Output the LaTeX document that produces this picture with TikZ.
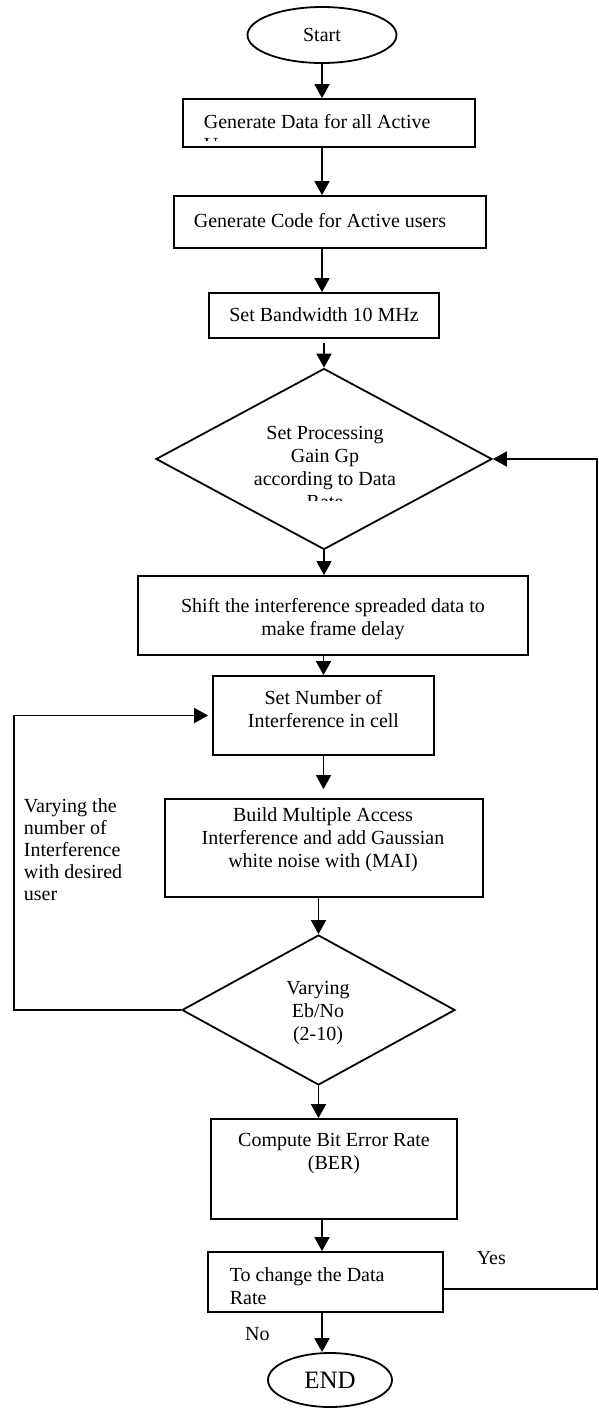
\documentclass[tikz,border=0pt]{standalone}
\usepackage{fontspec}
\setmainfont{Liberation Serif}
\usetikzlibrary{positioning}
\usetikzlibrary{shapes.geometric}
\usetikzlibrary{arrows.meta}

\begin{document}
\begin{tikzpicture}[x=0.5pt, y=-0.5pt, ->, >={Triangle[length=7pt,width=7.5pt]}, line width=0.9pt, font=\fontsize{10}{11.5}\selectfont]
    \tikzstyle{block}=[draw=black,rectangle,fill=none,inner sep=0pt]
    \tikzstyle{term}=[draw=black,ellipse,fill=none,inner sep=0pt]
    \tikzstyle{decision}=[draw=black,diamond,fill=none,inner sep=0pt]
    \tikzstyle{txt}=[inner sep=0pt,align=center]

    \useasboundingbox (0,0) rectangle (599,1409);

    % shapes
    \node[term, minimum width=74.5pt, minimum height=28pt] (start) at (322,35) {Start};
    \node[block, minimum width=146pt, minimum height=24pt] (gdata) at (329,123) {};
    \node[block, minimum width=156pt, minimum height=26pt] (gcode) at (330,222) {};
    \node[block, minimum width=115pt, minimum height=22.5pt] (bw) at (324,315.5) {};
    \node[decision, minimum width=168pt, minimum height=90.5pt] (gain) at (324,459) {};
    \node[block, minimum width=195pt, minimum height=39.5pt] (shift) at (333,615.5) {};
    \node[block, minimum width=110.5pt, minimum height=39.5pt] (nint) at (323.5,715.5) {};
    \node[block, minimum width=159pt, minimum height=49pt] (mai) at (324,848) {};
    \node[decision, minimum width=136.5pt, minimum height=75pt] (ebno) at (318.5,1010) {};
    \node[block, minimum width=123pt, minimum height=50pt] (ber) at (334,1169) {};
    \node[block, minimum width=117.5pt, minimum height=30pt] (rate) at (325.5,1282) {};
    \node[term, minimum width=62pt, minimum height=27pt, font=\fontsize{12.5}{14}\selectfont] (stop) at (330,1380) {END};
    \coordinate (lft) at (14,0);
    \coordinate (rgt) at (597,0);

    % texts
    \begin{scope}
        \clip (gdata.north west) rectangle ([yshift=3.5pt]gdata.south east);
        \node[txt, anchor=west, align=left] (gdatatxt) at (203,133.5) {Generate Data for all Active\\Users};
    \end{scope}
    \node[txt, anchor=west] (gcodetxt) at (193,221) {Generate Code for Active users};
    \node[txt] (bwtxt) at (324,315) {Set Bandwidth 10 MHz};
    \begin{scope}
        \clip (150,360) rectangle (500,500);
        \node[txt] (gaintxt) at (325,467) {Set Processing\\Gain Gp\\according to Data\\Rate};
    \end{scope}
    \node[txt] (shifttxt) at (333,619) {Shift the interference spreaded data to\\make frame delay};
    \node[txt] (ninttxt) at (323.5,709) {Set Number of\\Interference in cell};
    \node[txt] (maitxt) at (323,840) {Build Multiple Access\\Interference and add Gaussian\\white noise with (MAI)};
    \node[txt] (ebnotxt) at (318,1013) {Varying\\Eb/No\\(2-10)};
    \node[txt] (bertxt) at (334,1153) {Compute Bit Error Rate\\(BER)};
    \node[txt, anchor=west, align=left] (ratetxt) at (229,1286) {To change the Data\\Rate};
    \node[txt, anchor=west, align=left, font=\fontsize{10}{11}\selectfont] (vary) at (23,850) {Varying the\\number of\\Interference\\with desired\\user};
    \node[txt, above right=8pt and 16pt of rate.east] (yes) {Yes};
    \node[txt, below left=7pt and 27.5pt of rate.south] (no) {No};

    % arrows
    \draw (start.south) -- (start.south |- gdata.north);
    \draw (start.south |- gdata.south) -- (start.south |- gcode.north);
    \draw (start.south |- gcode.south) -- (start.south |- bw.north);
    \draw[shorten <=2pt] (bw.south) -- (gain.north);
    \draw (gain.south) -- (gain.south |- shift.north);
    \draw (nint.north |- shift.south) -- (nint.north);
    \draw[shorten >=4.5pt] (nint.south) -- (nint.south |- mai.north);
    \draw (ebno.north |- mai.south) -- (ebno.north);
    \draw (ebno.south) -- (ebno.south |- ber.north);
    \draw (start.south |- ber.south) -- (start.south |- rate.north);
    \draw (start.south |- rate.south) -- (start.south |- stop.north);

    % loops
    \draw[shorten >=2pt] (ebno.west) -| (lft |- nint.west) -- (nint.west);
    \draw ([yshift=-3.5pt]rate.east) -| (rgt |- gain.east) -- (gain.east);

\end{tikzpicture}
\end{document}
